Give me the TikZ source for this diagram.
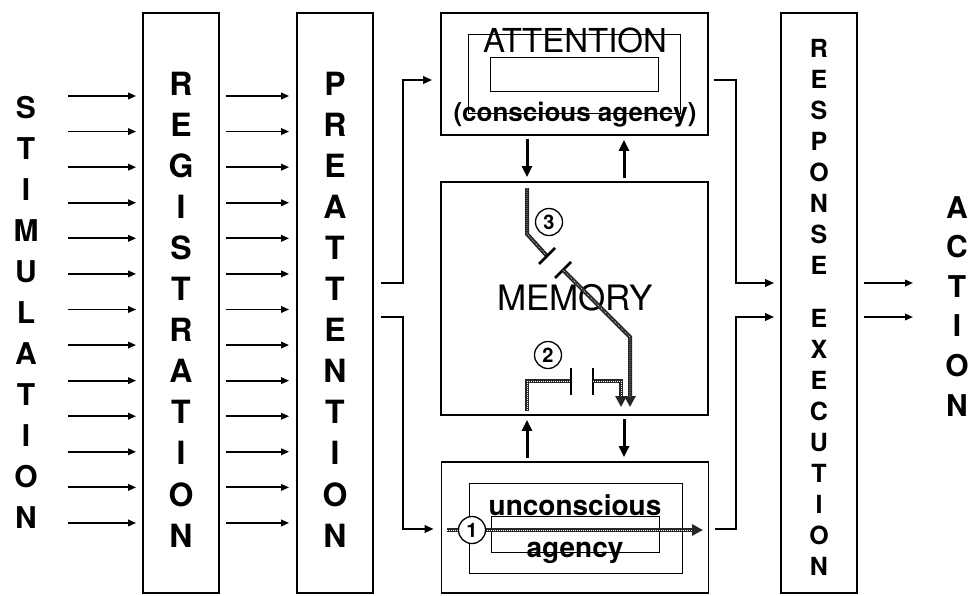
\documentclass[tikz,border=0pt]{standalone}
\usepackage{fontspec}
\setmainfont{TeX Gyre Heros}
\usetikzlibrary{arrows.meta,positioning,calc}

\tikzset{
  stage/.style={draw, line width=1.8pt, inner sep=0pt, minimum width=76pt, minimum height=580pt},
  panel/.style={draw, line width=1.8pt, inner sep=0pt, minimum width=267pt},
  frame/.style={draw, line width=1pt, inner sep=0pt},
  colletter/.style={anchor=base, inner sep=0pt, font=\fontsize{30}{30}\selectfont\bfseries},
  feed/.style={line width=1.8pt, -{Triangle[length=8pt,width=6.5pt]}},
  link/.style={line width=2.1pt, -{Triangle[length=9pt,width=7.5pt]}},
  flow/.style={line width=3pt, -{Triangle[length=11pt,width=10pt]}},
  hatch/.style={line width=4pt, draw=black!85, postaction={draw=white, -, line width=0.8pt, dash pattern=on 0.5pt off 1.5pt}},
  hatcharrow/.style={line width=4pt, draw=black!85, -{Triangle[length=11pt,width=11pt]},
    postaction={draw=white, -, line width=0.8pt, dash pattern=on 0.5pt off 1.5pt, shorten >=10pt}},
  plate/.style={line width=2.8pt},
  tag/.style={circle, draw, line width=1.3pt, minimum size=27pt, inner sep=0pt, font=\fontsize{20}{20}\selectfont\bfseries},
}

\begin{document}
\begin{tikzpicture}[x=1pt,y=-1pt]
  \useasboundingbox (0,0) rectangle (971,595);

  % Stage columns
  \node[stage] (reg) at (181,303) {};
  \node[stage] (pre) at (335,303) {};
  \node[stage] (resp) at (819,303) {};

  % Central panels
  \node[panel, minimum height=122pt] (att) at (574.5,74) {};
  \node[panel, minimum height=233pt] (mem) at (574.5,298.5) {};
  \node[panel, minimum height=131pt] (unc) at (575,527.5) {};

  % Inner frames
  \node[frame, minimum width=212pt, minimum height=79pt] (attin) at (574,73.5) {};
  \node[frame, minimum width=168pt, minimum height=34pt] (attcore) at (574,74) {};
  \node[frame, minimum width=213pt, minimum height=90pt] (uncin) at (575.5,528) {};
  \node[frame, minimum width=168pt, minimum height=36pt] (unccore) at (575,534) {};

  % Panel texts
  \node[anchor=base, inner sep=0pt, font=\fontsize{33}{33}\selectfont] (atttxt) at (575,52) {ATTENTION};
  \node[anchor=base, inner sep=0pt, font=\fontsize{26}{26}\selectfont\bfseries] (contxt) at (575,121) {(conscious agency)};
  \node[anchor=base, inner sep=0pt, font=\fontsize{35}{35}\selectfont] (memtxt) at (575,310) {MEMORY};
  \node[anchor=base, inner sep=0pt, font=\fontsize{28}{28}\selectfont\bfseries] (unctxt) at (575,515) {unconscious};
  \node[anchor=base, inner sep=0pt, font=\fontsize{28}{28}\selectfont\bfseries] (agtxt) at (575,557) {agency};

  % Letter columns
  \foreach \ch [count=\i from 0] in {S,T,I,M,U,L,A,T,I,O,N}
    \node[colletter] (stim\i) at (26,118+41*\i) {\ch};
  \foreach \ch [count=\i from 0] in {R,E,G,I,S,T,R,A,T,I,O,N}
    \node[colletter, font=\fontsize{32}{32}\selectfont\bfseries] (regl\i) at (181,95+41.1*\i) {\ch};
  \foreach \ch [count=\i from 0] in {P,R,E,A,T,T,E,N,T,I,O,N}
    \node[colletter, font=\fontsize{32}{32}\selectfont\bfseries] (prel\i) at (335,95+41.1*\i) {\ch};
  \foreach \ch [count=\i from 0] in {R,E,S,P,O,N,S,E}
    \node[colletter, font=\fontsize{25}{25}\selectfont\bfseries] (resl\i) at (819,57+31*\i) {\ch};
  \foreach \ch [count=\i from 0] in {E,X,E,C,U,T,I,O,N}
    \node[colletter, font=\fontsize{25}{25}\selectfont\bfseries] (exel\i) at (819,327+31*\i) {\ch};
  \foreach \ch [count=\i from 0] in {A,C,T,I,O,N}
    \node[colletter] (actl\i) at (957,218+39.6*\i) {\ch};

  % Input arrows
  \foreach \i in {0,...,12} {
    \coordinate (src\i) at (68,96+35.58*\i);
    \draw[feed, shorten >=6pt] (src\i) -- (reg.west |- src\i);
    \draw[feed, shorten <=6pt, shorten >=7pt] (reg.east |- src\i) -- (pre.west |- src\i);
  }

  % Connector levels
  \coordinate (hiy) at (0,283);
  \coordinate (loy) at (0,317);
  \coordinate (atty) at (0,80);
  \coordinate (uncy) at (0,529);
  \coordinate (lx) at (527,0);
  \coordinate (rx) at (624,0);
  \coordinate (out1) at (913,283);
  \coordinate (out2) at (913,317);

  % Routing between stages
  \draw[link, shorten <=7pt, shorten >=8pt] (pre.east |- hiy) -- ++(29,0) |- (att.west |- atty);
  \draw[link, shorten <=7pt, shorten >=7pt] (pre.east |- loy) -- ++(29,0) |- (unc.west |- uncy);
  \draw[link, shorten <=5pt, shorten >=6pt] (att.east |- atty) -- ++(27,0) |- (resp.west |- hiy);
  \draw[link, shorten <=6pt, shorten >=6pt] (unc.east |- uncy) -- ++(27,0) |- (resp.west |- loy);
  \draw[feed, shorten <=6pt] (resp.east |- hiy) -- (out1);
  \draw[feed, shorten <=6pt] (resp.east |- loy) -- (out2);

  % Exchanges with memory
  \draw[flow, shorten <=3pt, shorten >=4pt] (att.south -| lx) -- (mem.north -| lx);
  \draw[flow, shorten <=3pt, shorten >=4pt] (mem.north -| rx) -- (att.south -| rx);
  \draw[flow, shorten <=3pt, shorten >=4pt] (unc.north -| lx) -- (mem.south -| lx);
  \draw[flow, shorten <=3pt, shorten >=4pt] (mem.south -| rx) -- (unc.north -| rx);

  % Route 3
  \draw[hatch] (527,188) -- (527,234) -- (547,256);
  \draw[plate] (539,264) -- (555,248);
  \draw[plate] (555,278) -- (571,262);
  \draw[hatcharrow] (563,270) -- (630,337) -- (630,407);
  \node[tag] (n3) at (549,222) {3};

  % Route 2
  \draw[hatch] (527,411) -- (527,381) -- (571,381);
  \draw[plate] (571,368) -- (571,395);
  \draw[plate] (593,368) -- (593,395);
  \draw[hatcharrow] (593,381) -- (621,381) -- (621,407);
  \node[tag] (n2) at (548,355) {2};

  % Route 1
  \draw[hatcharrow] (447,530) -- (703,530);
  \node[tag, fill=white] (n1) at (472,530) {1};
\end{tikzpicture}
\end{document}
